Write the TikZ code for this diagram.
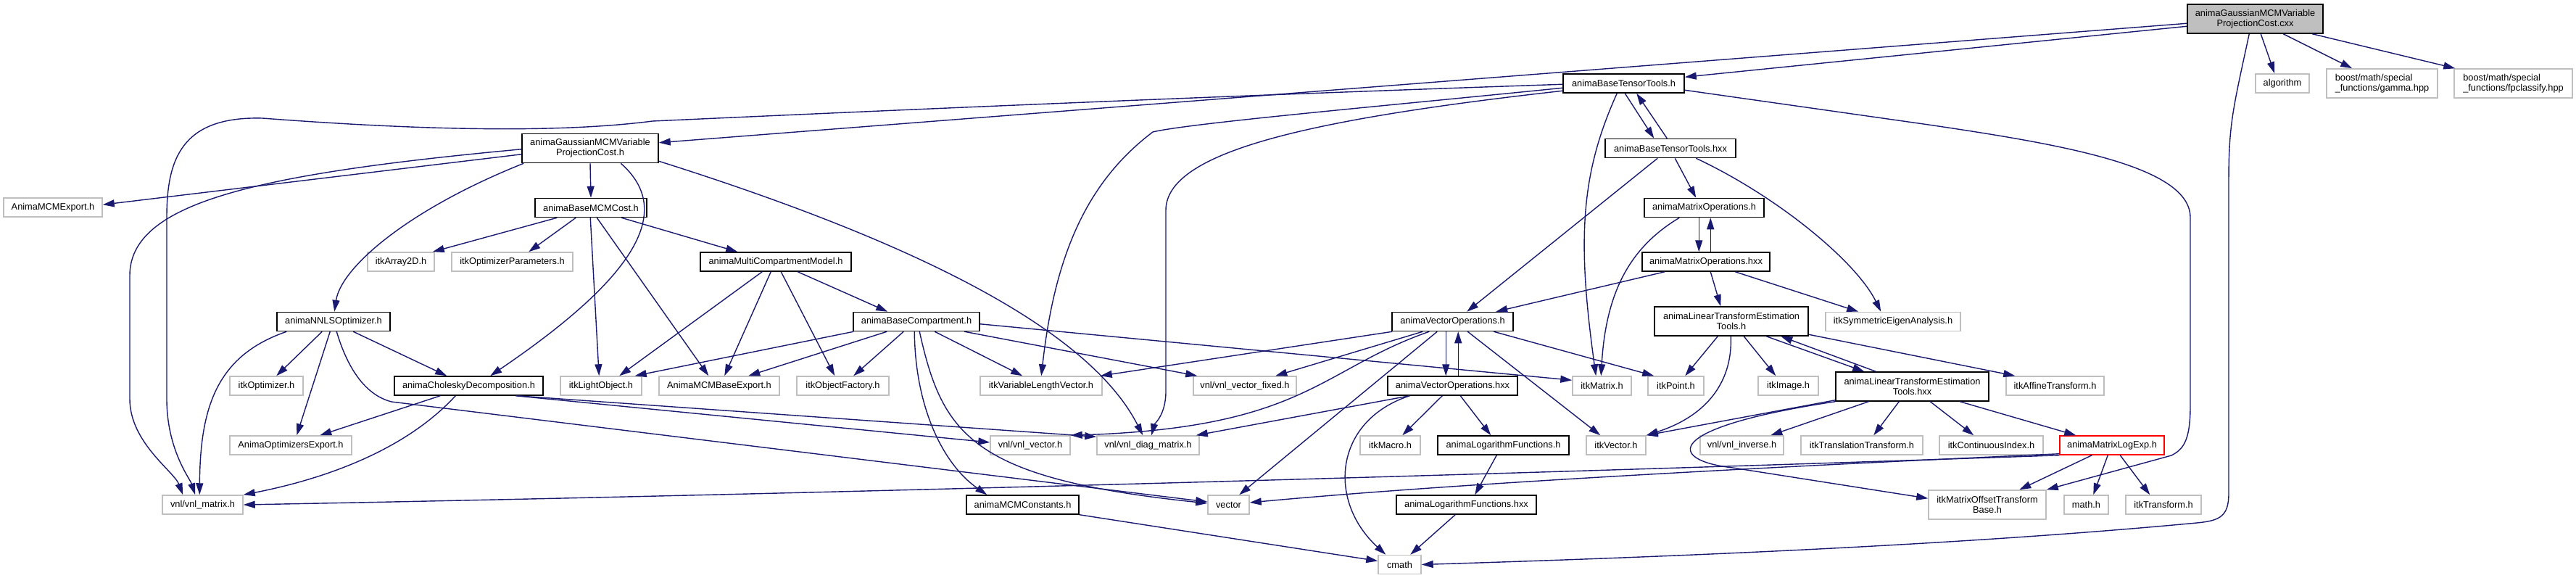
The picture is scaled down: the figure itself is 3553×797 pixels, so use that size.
\documentclass[tikz,border=0pt]{standalone}
\usepackage{fontspec}
\setmainfont{Liberation Sans}
\usetikzlibrary{arrows.meta,calc}
\definecolor{edgec}{HTML}{191970}
\definecolor{extc}{HTML}{BFBFBF}
\definecolor{rootc}{HTML}{BFBFBF}
\tikzset{
  nd/.style={draw=black, fill=white, line width=1.5pt, inner sep=0pt, minimum height=26pt,
             font=\fontsize{12.8pt}{14pt}\selectfont, align=center},
  ex/.style={nd, draw=extc},
  tall/.style={minimum height=40pt},
  dep/.style={draw=edgec, line width=1.4pt, -{Triangle[length=16pt,width=10pt]}},
}
\begin{document}
\begin{tikzpicture}[x=1pt,y=-1pt]
\fill[white] (0,0) rectangle (3553,797);
\useasboundingbox (0,0) rectangle (3553,797);

% nodes
\node[nd, fill=rootc, tall, minimum width=187pt] (cxx) at (3110.5,26) {animaGaussianMCMVariable\\ProjectionCost.cxx};
\node[ex, minimum width=74pt] (alg) at (3148,115) {algorithm};
\node[ex, tall, minimum width=153pt, align=left] (gam) at (3285.5,115) {boost/math/special\\\_functions/gamma.hpp};
\node[ex, tall, minimum width=163pt, align=left] (fpc) at (3466.5,115) {boost/math/special\\\_functions/fpclassify.hpp};
\node[nd, tall, minimum width=188pt] (pch) at (814,204.5) {animaGaussianMCMVariable\\ProjectionCost.h};
\node[nd, minimum width=167pt] (btt) at (2239.5,115) {animaBaseTensorTools.h};
\node[nd, minimum width=180pt] (bttx) at (2304,204.5) {animaBaseTensorTools.hxx};
\node[nd, minimum width=165pt] (mo) at (2350.5,286.5) {animaMatrixOperations.h};
\node[nd, minimum width=176pt] (mox) at (2353,361) {animaMatrixOperations.hxx};
\node[ex, minimum width=136pt] (mcmexp) at (73,286) {AnimaMCMExport.h};
\node[nd, minimum width=154pt] (bmc) at (815,286.5) {animaBaseMCMCost.h};
\node[ex, minimum width=92pt] (arr) at (553,361) {itkArray2D.h};
\node[ex, minimum width=167pt] (optp) at (706.5,361) {itkOptimizerParameters.h};
\node[nd, minimum width=208pt] (mcm) at (1070,361) {animaMultiCompartmentModel.h};
\node[nd, minimum width=156pt] (nnls) at (460,443.5) {animaNNLSOptimizer.h};
\node[nd, minimum width=174pt] (bc) at (1264,443.5) {animaBaseCompartment.h};
\node[nd, minimum width=167pt] (vo) at (2003.5,443.5) {animaVectorOperations.h};
\node[nd, tall, minimum width=212pt] (lte) at (2388,443) {animaLinearTransformEstimation\\Tools.h};
\node[ex, minimum width=186pt] (sym) at (2611,443.5) {itkSymmetricEigenAnalysis.h};
\node[ex, minimum width=101pt] (iopt) at (367.5,532) {itkOptimizer.h};
\node[nd, minimum width=205pt] (chol) at (646.5,532) {animaCholeskyDecomposition.h};
\node[ex, minimum width=112pt] (lo) at (829,532) {itkLightObject.h};
\node[ex, minimum width=166pt] (mbe) at (992,532) {AnimaMCMBaseExport.h};
\node[ex, minimum width=127pt] (of) at (1162.5,532) {itkObjectFactory.h};
\node[ex, minimum width=168pt] (vlv) at (1436,532) {itkVariableLengthVector.h};
\node[ex, minimum width=142pt] (vvf) at (1717,532) {vnl/vnl\_vector\_fixed.h};
\node[nd, minimum width=179pt] (vox) at (2003.5,532) {animaVectorOperations.hxx};
\node[ex, minimum width=81pt] (mat) at (2209.5,532) {itkMatrix.h};
\node[ex, minimum width=77pt] (pt) at (2311.5,532) {itkPoint.h};
\node[ex, minimum width=83pt] (img) at (2466.5,532) {itkImage.h};
\node[nd, tall, minimum width=211pt] (ltex) at (2637.5,533) {animaLinearTransformEstimation\\Tools.hxx};
\node[ex, minimum width=135pt] (aff) at (2834.5,532) {itkAffineTransform.h};
\node[ex, minimum width=168pt] (aoe) at (401,614) {AnimaOptimizersExport.h};
\node[ex, minimum width=110pt] (vv) at (1421,614) {vnl/vnl\_vector.h};
\node[ex, minimum width=141pt] (vdm) at (1583.5,614) {vnl/vnl\_diag\_matrix.h};
\node[ex, minimum width=83pt] (mac) at (1917.5,614) {itkMacro.h};
\node[nd, minimum width=181pt] (lf) at (2073.5,614) {animaLogarithmFunctions.h};
\node[ex, minimum width=82pt] (vec) at (2229,614) {itkVector.h};
\node[ex, minimum width=115pt] (inv) at (2402.5,614) {vnl/vnl\_inverse.h};
\node[ex, minimum width=168pt] (tt) at (2568,614) {itkTranslationTransform.h};
\node[ex, minimum width=143pt] (ci) at (2746.5,614) {itkContinuousIndex.h};
\node[nd, draw=red, minimum width=144pt] (mle) at (2913,614) {animaMatrixLogExp.h};
\node[ex, minimum width=111pt] (vm) at (279.5,696) {vnl/vnl\_matrix.h};
\node[nd, minimum width=155pt] (mcc) at (1410.5,696) {animaMCMConstants.h};
\node[ex, minimum width=57pt] (vct) at (1694.5,696) {vector};
\node[nd, minimum width=193pt] (lfx) at (2022.5,696) {animaLogarithmFunctions.hxx};
\node[ex, tall, minimum width=162pt] (mob) at (2741,696) {itkMatrixOffsetTransform\\Base.h};
\node[ex, minimum width=61pt] (math) at (2877.5,696) {math.h};
\node[ex, minimum width=104pt] (tr) at (2984,696) {itkTransform.h};
\node[ex, minimum width=59pt] (cm) at (1930.5,778.5) {cmath};

% edges from cxx
\draw[dep] ($(cxx.north west)+(0,27)$) -- ($(pch.north east)+(0,13)$);
\draw[dep] ($(cxx.north west)+(0,31)$) -- ($(btt.north east)+(0,5)$);
\draw[dep] ($(cxx.south west)+(102,0)$) -- ($(alg.north west)+(27,0)$);
\draw[dep] ($(cxx.south west)+(133,0)$) -- ($(gam.north west)+(36,0)$);
\draw[dep] ($(cxx.south west)+(173,0)$) -- ($(fpc.north west)+(2,0)$);
\draw[dep] ($(cxx.south west)+(86,0)$) .. controls (3080,150) and (3074,170) .. (3074,250) -- (3074,680)
   .. controls (3074,712) and (3062,718) .. (3030,721) .. controls (2700,752) and (2300,768) .. (cm.east);

% edges from pch
\draw[dep] ($(pch.north west)+(0,29)$) -- ($(mcmexp.north east)+(0,10)$);
\draw[dep] (pch.south) -- (bmc.north);
\draw[dep] ($(pch.south west)+(3,0)$) .. controls (560,290) and (470,370) .. ($(nnls.north west)+(80,0)$);
\draw[dep] ($(pch.south west)+(137,0)$) .. controls (930,290) and (880,380) .. ($(chol.north west)+(133,0)$);
\draw[dep] ($(pch.north west)+(0,22)$) .. controls (350,240) and (179,280) .. (179,380) -- (179,550)
   .. controls (179,610) and (240,650) .. ($(vm.north west)+(29,0)$);
\draw[dep] ($(pch.south east)+(0,-3)$) .. controls (1250,330) and (1500,450) .. ($(vdm.north west)+(64,0)$);

% edges from btt
\draw[dep] ($(btt.north west)+(0,15)$) .. controls (1600,135) and (1100,158) .. (900,167)
   .. controls (760,185) and (560,178) .. (362,163) .. controls (250,160) and (230,220) .. (230,300)
   -- (230,550) .. controls (230,620) and (262,660) .. ($(vm.north west)+(46,0)$);
\draw[dep] ($(btt.north west)+(0,20)$) .. controls (1900,147) and (1640,170) .. (1590,182)
   .. controls (1500,250) and (1455,350) .. ($(vlv.north west)+(85,0)$);
\draw[dep] ($(btt.north west)+(0,24)$) .. controls (1800,165) and (1608,210) .. (1608,290) -- (1608,540)
   .. controls (1608,572) and (1592,585) .. ($(vdm.north west)+(76,0)$);
\draw[dep] ($(btt.south west)+(75,0)$) .. controls (2180,240) and (2175,330) .. ($(mat.north west)+(33,0)$);
\draw[dep] ($(btt.south west)+(86,0)$) -- ($(bttx.north west)+(68,0)$);
\draw[dep] ($(bttx.north west)+(86,0)$) -- ($(btt.south west)+(102,0)$);
\draw[dep] ($(btt.north east)+(0,23)$) -- (2660,172) .. controls (2850,200) and (3021,230) .. (3021,300)
   -- (3021,560) .. controls (3021,610) and (3010,620) .. (2995,628) -- (mob.north east);

% bttx
\draw[dep] ($(bttx.south west)+(97,0)$) -- ($(mo.north west)+(72,0)$);
\draw[dep] ($(bttx.south west)+(73,0)$) -- ($(vo.north west)+(104,0)$);
\draw[dep] ($(bttx.south west)+(126,0)$) .. controls (2450,270) and (2560,360) .. ($(sym.north west)+(77,0)$);

% mo / mox
\draw[dep] ($(mo.south west)+(76,0)$) -- ($(mox.north west)+(79,0)$);
\draw[dep] ($(mox.north west)+(95,0)$) -- ($(mo.south west)+(92,0)$);
\draw[dep] ($(mo.south west)+(49,0)$) .. controls (2250,340) and (2215,400) .. ($(mat.north west)+(40,0)$);
\draw[dep] ($(mox.south west)+(32,0)$) -- ($(vo.north west)+(144,0)$);
\draw[dep] ($(mox.south west)+(95,0)$) -- ($(lte.north west)+(92,0)$);
\draw[dep] ($(mox.south west)+(129,0)$) -- ($(sym.north west)+(46,0)$);

% vo
\draw[dep] ($(vo.south west)+(1,0)$) -- ($(vlv.north east)+(-3,0)$);
\draw[dep] ($(vo.south west)+(43,0)$) -- ($(vvf.north west)+(114,0)$);
\draw[dep] ($(vo.south west)+(52,0)$) .. controls (1820,510) and (1800,590) .. (vv.north east);
\draw[dep] ($(vo.south west)+(63,0)$) -- ($(vct.north west)+(44,0)$);
\draw[dep] ($(vo.south west)+(75,0)$) -- ($(vox.north west)+(81,0)$);
\draw[dep] ($(vox.north west)+(98,0)$) -- ($(vo.south west)+(92,0)$);
\draw[dep] ($(vo.south west)+(105,0)$) -- ($(vec.north west)+(20,0)$);
\draw[dep] ($(vo.south west)+(141,0)$) -- ($(pt.north west)+(9,0)$);

% vox, lf, lfx
\draw[dep] ($(vox.south west)+(31,0)$) -- ($(vdm.north east)+(-5,0)$);
\draw[dep] ($(vox.south west)+(31,0)$) .. controls (1840,580) and (1830,690) .. ($(cm.north west)+(11,0)$);
\draw[dep] ($(vox.south west)+(76,0)$) -- ($(mac.north west)+(59,0)$);
\draw[dep] ($(vox.south west)+(101,0)$) -- ($(lf.north west)+(74,0)$);
\draw[dep] ($(lf.south west)+(82,0)$) -- ($(lfx.north west)+(109,0)$);
\draw[dep] ($(lfx.south west)+(82,0)$) -- ($(cm.north west)+(45,0)$);

% lte
\draw[dep] ($(lte.south west)+(88,0)$) -- ($(pt.north west)+(52,0)$);
\draw[dep] ($(lte.south west)+(106,0)$) .. controls (2390,530) and (2350,575) .. (vec.north east);
\draw[dep] ($(lte.south west)+(124,0)$) -- ($(img.north west)+(25,0)$);
\draw[dep] ($(lte.south west)+(155,0)$) -- ($(ltex.north west)+(40,0)$);
\draw[dep] ($(ltex.north west)+(56,0)$) -- ($(lte.south west)+(175,0)$);
\draw[dep] ($(lte.north east)+(0,39)$) -- ($(aff.north west)+(13,0)$);

% ltex
\draw[dep] ($(ltex.south west)+(0,-2)$) -- (vec.north east);
\draw[dep] (ltex.south west) .. controls (2290,590) and (2300,635) .. (2390,645) -- ($(mob.north west)+(0,12)$);
\draw[dep] ($(ltex.south west)+(46,0)$) -- ($(inv.north west)+(98,0)$);
\draw[dep] ($(ltex.south west)+(88,0)$) -- ($(tt.north west)+(101,0)$);
\draw[dep] ($(ltex.south west)+(131,0)$) -- ($(ci.north west)+(48,0)$);
\draw[dep] ($(ltex.south west)+(172,0)$) -- ($(mle.north west)+(23,0)$);

% mle
\draw[dep] ($(mle.south west)+(45,0)$) -- ($(mob.north west)+(126,0)$);
\draw[dep] ($(mle.south west)+(67,0)$) -- ($(math.north west)+(41,0)$);
\draw[dep] ($(mle.south west)+(84,0)$) -- ($(tr.north west)+(34,0)$);
\draw[dep] (mle.south west) .. controls (2200,650) and (1200,680) .. (vm.east);
\draw[dep] ($(mle.south west)+(0,-2)$) .. controls (2300,650) and (1950,672) .. ($(vct.east)+(0,-3)$);

% bc
\draw[dep] ($(bc.south west)+(92,0)$) .. controls (1300,600) and (1340,660) .. ($(vct.west)+(0,-2)$);
\draw[dep] ($(bc.south west)+(85,0)$) .. controls (1262,560) and (1300,640) .. ($(mcc.north west)+(29,0)$);
\draw[dep] ($(bc.south west)+(1,0)$) -- ($(lo.north east)+(-10,0)$);
\draw[dep] ($(bc.south west)+(47,0)$) -- ($(mbe.north west)+(124,0)$);
\draw[dep] ($(bc.south west)+(70,0)$) -- ($(of.north west)+(79,0)$);
\draw[dep] ($(bc.south west)+(113,0)$) -- ($(vlv.north west)+(59,0)$);
\draw[dep] ($(bc.south west)+(154,0)$) -- ($(vvf.north west)+(6,0)$);
\draw[dep] ($(bc.north east)+(0,17)$) -- ($(mat.north west)+(0,6)$);
\draw[dep] (mcc.south east) -- ($(cm.west)+(0,-5)$);

% mcm
\draw[dep] ($(mcm.south west)+(86,0)$) -- ($(lo.north west)+(82,0)$);
\draw[dep] ($(mcm.south west)+(98,0)$) -- ($(mbe.north west)+(91,0)$);
\draw[dep] ($(mcm.south west)+(112,0)$) -- ($(of.north west)+(53,0)$);
\draw[dep] ($(mcm.south west)+(135,0)$) -- ($(bc.north west)+(48,0)$);

% bmc
\draw[dep] ($(bmc.south west)+(31,0)$) -- ($(arr.north east)+(-3,0)$);
\draw[dep] ($(bmc.south west)+(57,0)$) -- ($(optp.north west)+(107,0)$);
\draw[dep] ($(bmc.south west)+(77,0)$) -- ($(lo.north west)+(54,0)$);
\draw[dep] ($(bmc.south west)+(86,0)$) -- ($(mbe.north west)+(69,0)$);
\draw[dep] ($(bmc.south west)+(120,0)$) -- ($(mcm.north west)+(52,0)$);

% nnls
\draw[dep] ($(nnls.south west)+(14,0)$) .. controls (300,490) and (276,560) .. ($(vm.north west)+(52,0)$);
\draw[dep] ($(nnls.south west)+(63,0)$) -- ($(iopt.north west)+(65,0)$);
\draw[dep] ($(nnls.south west)+(74,0)$) -- ($(aoe.north west)+(93,0)$);
\draw[dep] ($(nnls.south west)+(106,0)$) -- ($(chol.north west)+(73,0)$);
\draw[dep] ($(nnls.south west)+(83,0)$) .. controls (480,510) and (505,545) .. (540,554) -- ($(vct.west)+(0,-4)$);

% chol
\draw[dep] ($(chol.south west)+(64,0)$) -- ($(aoe.north west)+(125,0)$);
\draw[dep] ($(chol.south west)+(85,0)$) .. controls (560,620) and (450,660) .. (vm.north east);
\draw[dep] ($(chol.south west)+(168,0)$) -- ($(vv.west)+(0,-4)$);
\draw[dep] ($(chol.south west)+(170,0)$) -- ($(vdm.north west)+(0,2)$);
\end{tikzpicture}
\end{document}
